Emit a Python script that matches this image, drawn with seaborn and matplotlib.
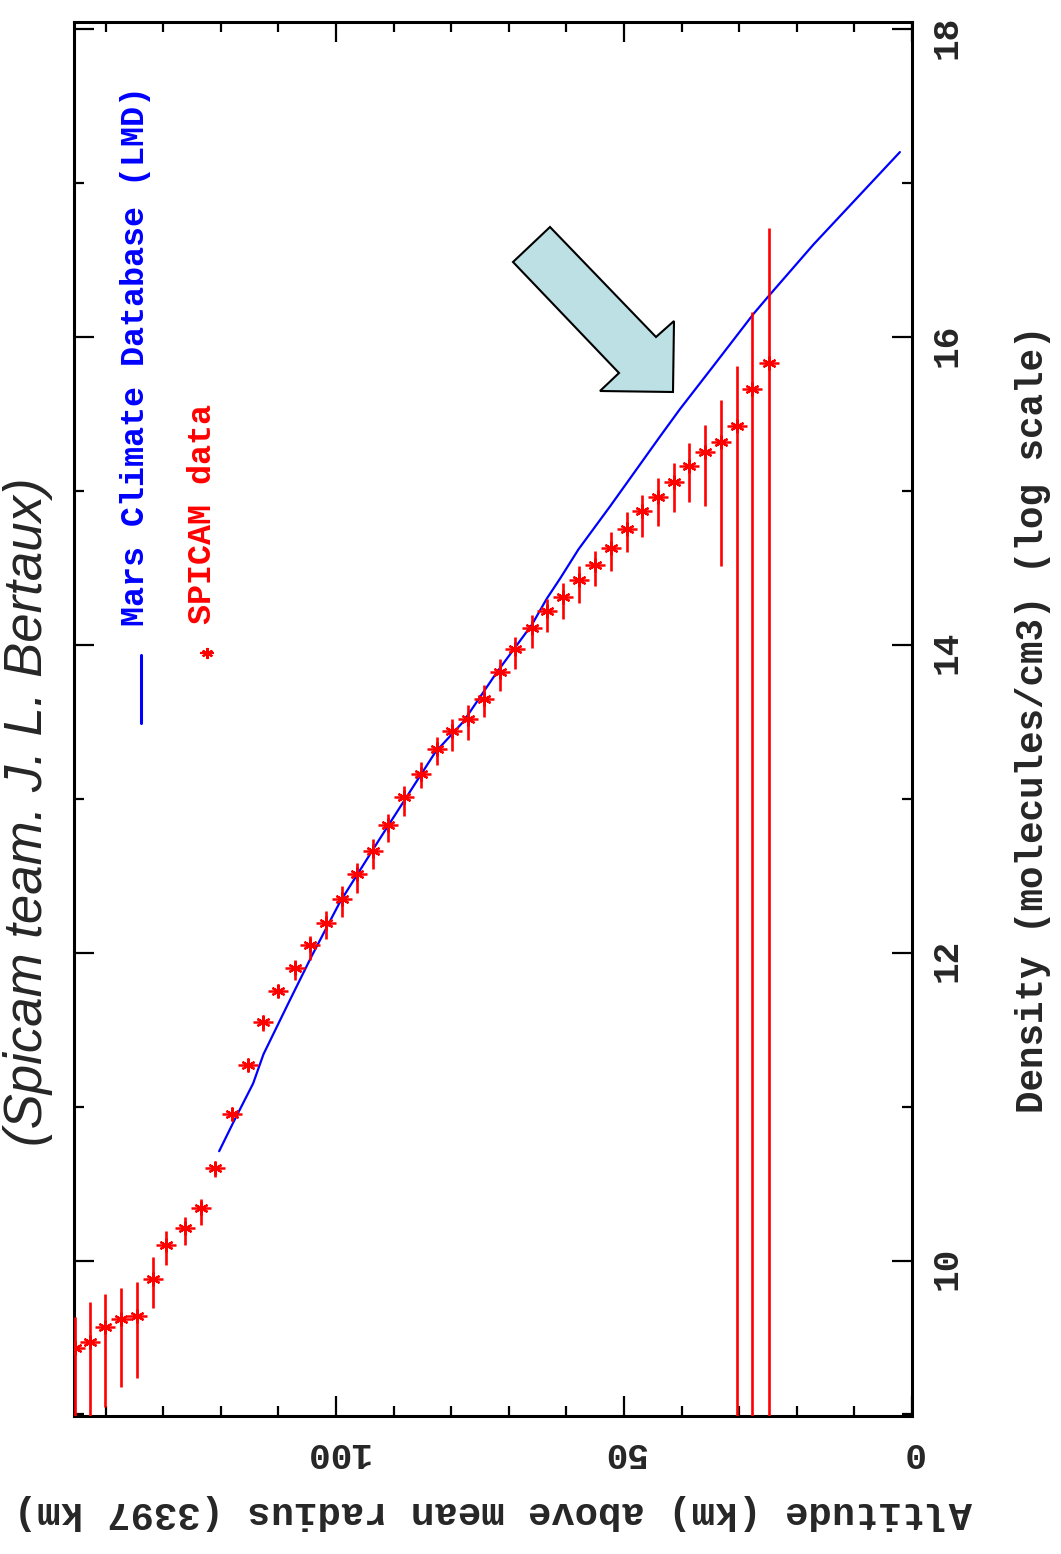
import matplotlib
matplotlib.use("Agg")
import matplotlib.pyplot as plt
import seaborn as sns
from matplotlib.lines import Line2D
from matplotlib.patches import Polygon
from matplotlib.ticker import MultipleLocator

# Mars Climate Database (LMD) profile: altitude (km) vs log10 density
mcd_alt = [2.1, 9.6, 17.1, 25.0, 27.5, 34.5, 40.3, 43.8, 52.4, 57.9, 61.1,
           63.4, 66.0, 72.1, 77.9, 82.8, 92.4, 99.3, 104.2, 108.3, 112.6,
           114.4, 117.8, 120.3]
mcd_dens = [17.20, 16.90, 16.60, 16.26, 16.15, 15.81, 15.53, 15.35, 14.90,
            14.62, 14.43, 14.30, 14.13, 13.82, 13.50, 13.30, 12.74, 12.33,
            11.98, 11.67, 11.34, 11.15, 10.90, 10.71]

# SPICAM data: altitude (km), log10 density, upper / lower end of error bar
spicam_alt = [145.3, 142.8, 140.1, 137.4, 134.6, 131.8, 129.5, 126.3, 123.4,
              121.1, 118.1, 115.3, 112.6, 110.0, 107.2, 104.5, 101.8, 99.0,
              96.3, 93.6, 90.9, 88.2, 85.3, 82.5, 79.8, 77.1, 74.3, 71.6,
              68.9, 66.0, 63.3, 60.6, 57.8, 55.1, 52.3, 49.5, 46.8, 44.1,
              41.3, 38.7, 35.9, 33.2, 30.4, 27.7, 24.9]
spicam_dens = [9.43, 9.47, 9.57, 9.62, 9.64, 9.88, 10.10, 10.21, 10.34,
               10.60, 10.95, 11.27, 11.55, 11.75, 11.90, 12.05, 12.19, 12.35,
               12.51, 12.66, 12.83, 13.01, 13.16, 13.32, 13.44, 13.52, 13.65,
               13.82, 13.97, 14.11, 14.22, 14.31, 14.42, 14.52, 14.63, 14.75,
               14.87, 14.96, 15.06, 15.16, 15.25, 15.32, 15.42, 15.66, 15.83]
spicam_hi = [9.63, 9.73, 9.78, 9.82, 9.86, 10.02, 10.19, 10.28, 10.40,
             10.64, 10.98, 11.30, 11.59, 11.79, 11.95, 12.11, 12.27, 12.43,
             12.58, 12.74, 12.90, 13.08, 13.24, 13.40, 13.52, 13.61, 13.74,
             13.91, 14.05, 14.19, 14.30, 14.40, 14.51, 14.61, 14.73, 14.86,
             14.97, 15.08, 15.18, 15.31, 15.43, 15.59, 15.81, 16.16, 16.71]
spicam_lo = [8.00, 8.00, 9.05, 9.18, 9.24, 9.69, 9.97, 10.10, 10.23,
             10.54, 10.92, 11.24, 11.49, 11.71, 11.82, 11.95, 12.09, 12.23,
             12.39, 12.54, 12.72, 12.89, 13.07, 13.22, 13.31, 13.38, 13.53,
             13.70, 13.84, 13.98, 14.08, 14.17, 14.27, 14.38, 14.48, 14.60,
             14.70, 14.77, 14.86, 14.93, 14.90, 14.51, 8.00, 8.00, 8.00]

x_ticks = [0, 50, 100]
y_ticks = [10, 12, 14, 16, 18]

W, H = 1061, 1554
RED = "#ff0000"
BLUE = "#0000ff"


def px(x, y):
    """pixel position (from top-left) -> figure fraction"""
    return x / W, 1 - y / H


sns.set_style("ticks")
plt.rcParams["font.family"] = ["Liberation Mono", "DejaVu Sans"]
plt.rcParams["font.weight"] = "bold"
plt.rcParams["axes.labelweight"] = "bold"

fig = plt.figure(figsize=(W / 100, H / 100), dpi=100)
ax = fig.add_axes([74 / W, 1 - 1416 / H, (912 - 74) / W, (1416 - 22) / H])

# model profile
sns.lineplot(x=mcd_alt, y=mcd_dens, color=BLUE, lw=1.6, ax=ax,
             sort=False, estimator=None)

# measurements with error bars
ax.vlines(spicam_alt, spicam_lo, spicam_hi, color=RED, lw=1.9, zorder=3)
ax.plot(spicam_alt, spicam_dens, ls="none", marker=(6, 2, 0), ms=10,
        mew=1.6, color=RED, zorder=4)
ax.plot(spicam_alt, spicam_dens, ls="none", marker="_", ms=14,
        mew=1.8, color=RED, zorder=4)

ax.set_xlim(145.5, 0)
ax.set_ylim(8.99, 18.045)
ax.set_xticks(x_ticks)
ax.set_yticks(y_ticks)
ax.xaxis.set_minor_locator(MultipleLocator(10))
ax.yaxis.set_minor_locator(MultipleLocator(1))

for s in ax.spines.values():
    s.set_visible(True)
    s.set_linewidth(2.2)
    s.set_color("black")

ax.tick_params(which="both", direction="in", top=True, bottom=True,
               left=True, right=True, labelleft=False, labelright=True,
               labelbottom=True, color="black", width=1.6, labelsize=26)
ax.tick_params(which="major", length=14.5)
ax.tick_params(which="minor", length=7)
ax.tick_params(axis="y", labelrotation=90, pad=13)
ax.tick_params(axis="x", labelrotation=180, pad=14)

ax.yaxis.set_label_position("right")
ax.set_ylabel("Density (molecules/cm3) (log scale)", fontsize=27,
              rotation=90, labelpad=36)
ax.set_xlabel("Altitude (km) above mean radius (3397 km)", fontsize=28,
              rotation=180, labelpad=17)

# legend, drawn by hand in the rotated layout
fig.add_artist(Line2D([px(141, 655)[0]] * 2, [px(0, 655)[1], px(0, 723)[1]],
                      transform=fig.transFigure, color=BLUE, lw=2.2))
fig.text(*px(144, 626), "Mars Climate Database (LMD)", color=BLUE,
         fontsize=24, rotation=90, rotation_mode="anchor",
         ha="left", va="baseline")
fig.add_artist(Line2D([px(207, 0)[0]], [px(0, 653)[1]],
                      transform=fig.transFigure, ls="none", marker=(6, 2, 0),
                      ms=8, mew=1.5, color=RED))
fig.add_artist(Line2D([px(207, 0)[0]], [px(0, 653)[1]],
                      transform=fig.transFigure, ls="none", marker="_",
                      ms=10, mew=1.6, color=RED))
fig.text(*px(211, 624), "SPICAM data", color=RED, fontsize=24,
         rotation=90, rotation_mode="anchor", ha="left", va="baseline")

# highlight arrow
arrow_px = [(550, 227), (656, 337), (674, 321), (673, 392), (600, 391),
            (619, 373), (513, 262)]
fig.add_artist(Polygon([px(x, y) for x, y in arrow_px], closed=True,
                       transform=fig.transFigure, facecolor="#bce0e3",
                       edgecolor="black", lw=1.5, zorder=5))

# credit line along the left edge
fig.text(*px(42, 1146), "(Spicam team. J. L. Bertaux)", fontsize=38,
         family=["Liberation Sans", "DejaVu Sans"], style="italic",
         weight="normal", rotation=90, rotation_mode="anchor",
         ha="left", va="baseline")

fig.savefig("out.png", dpi=100, facecolor="white")
